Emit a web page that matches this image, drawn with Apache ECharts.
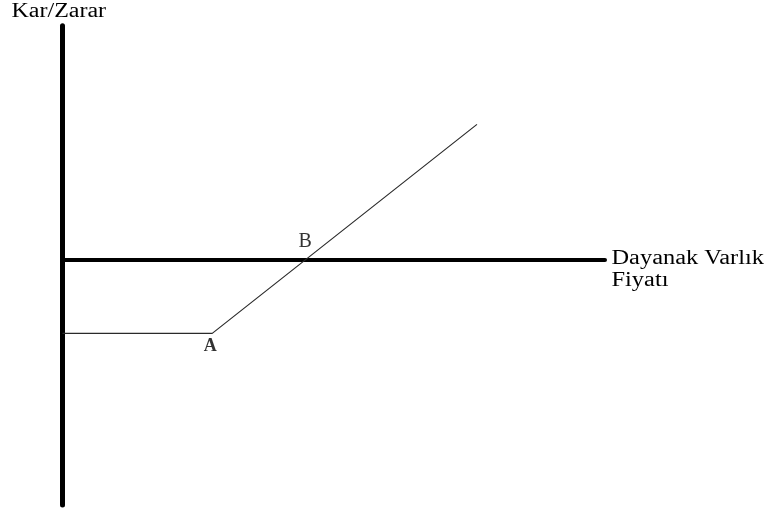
<!DOCTYPE html>
<html>
<head>
<meta charset="utf-8">
<script src="https://cdn.jsdelivr.net/npm/echarts@6/dist/echarts.min.js"></script>
<style>
  html, body { margin: 0; padding: 0; background: #fff; }
  #chart { width: 774px; height: 509px; }
</style>
</head>
<body>
<div id="chart"></div>
<script>
// kar/zarar eğrisi (uzun alım opsiyonu)
const payoffX = [0, 27.6, 76.4];
const payoffY = [-31.6, -31.6, 57.8];
// işaretli noktalar
const pointNames = ["A", "B"];
const pointX = [27.6, 44.9];
const pointY = [-31.6, 0];
const yTitle = "Kar/Zarar";
const xTitle = ["Dayanak Varlık", "Fiyatı"];

const serif = "'Liberation Serif', 'DejaVu Serif', serif";

const chart = echarts.init(document.getElementById("chart"));

chart.setOption({
  animation: false,
  backgroundColor: "#fff",
  grid: { left: 62.5, right: 169, top: 25.7, bottom: 4 },
  xAxis: {
    type: "value",
    min: 0,
    max: 100,
    axisLine: { show: true, onZero: true, lineStyle: { color: "#000", width: 4 } },
    axisTick: { show: false },
    axisLabel: { show: false },
    splitLine: { show: false },
  },
  yAxis: {
    type: "value",
    min: -105,
    max: 100,
    axisLine: { show: true, lineStyle: { color: "#000", width: 5 } },
    axisTick: { show: false },
    axisLabel: { show: false },
    splitLine: { show: false },
  },
  series: [
    {
      type: "line",
      data: payoffX.map((x, i) => [x, payoffY[i]]),
      showSymbol: false,
      lineStyle: { color: "#2a2a2a", width: 1.2 },
      z: 3,
    },
    {
      type: "scatter",
      symbolSize: 0,
      data: pointNames.map((n, i) => ({
        value: [pointX[i], pointY[i]],
        name: n,
        label: n === "A"
          ? { position: "bottom", distance: 4, offset: [-2, 0], fontWeight: "bold", fontSize: 18 }
          : { position: "top", distance: 8, offset: [-1, 0], fontSize: 20 },
      })),
      label: {
        show: true,
        formatter: (p) => p.name,
        color: "#000",
        fontFamily: serif,
      },
      z: 4,
    },
  ],
  graphic: [
    {
      type: "text",
      x: 11.5,
      y: 12,
      scaleX: 1.2,
      style: {
        text: yTitle,
        font: "20px " + serif,
        fill: "#000",
        textAlign: "left",
        textVerticalAlign: "middle",
      },
    },
    {
      type: "text",
      x: 611.5,
      y: 258.5,
      scaleX: 1.22,
      style: {
        text: xTitle[0],
        font: "20px " + serif,
        fill: "#000",
        textAlign: "left",
        textVerticalAlign: "middle",
      },
    },
    {
      type: "text",
      x: 611.5,
      y: 281,
      scaleX: 1.22,
      style: {
        text: xTitle[1],
        font: "20px " + serif,
        fill: "#000",
        textAlign: "left",
        textVerticalAlign: "middle",
      },
    },
  ],
});
</script>
</body>
</html>
